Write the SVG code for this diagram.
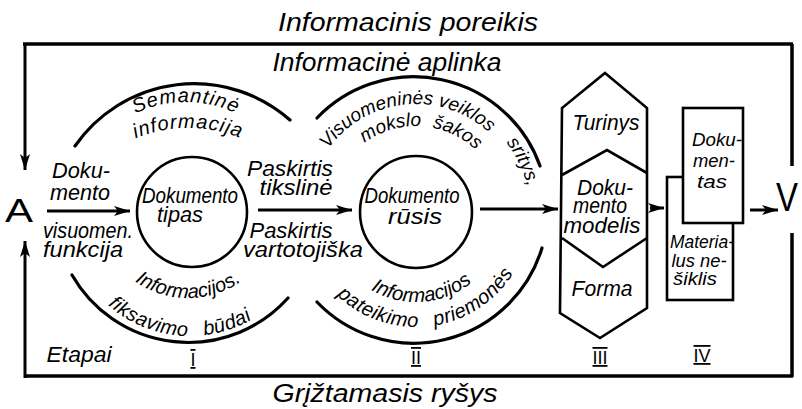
<svg xmlns="http://www.w3.org/2000/svg" width="802" height="409" viewBox="0 0 802 409">
<style>
text{font-family:"Liberation Sans",Arial,sans-serif;font-style:italic;fill:#000}
.t{font-size:22px}
.a{font-size:20px}
.s{font-size:19px}
.big{font-size:26px}
.roman{font-size:18px;font-style:normal;text-decoration:underline overline}
.line{fill:none;stroke:#000;stroke-width:3.5}
.arc{fill:none;stroke:#000;stroke-width:3.2;stroke-linecap:round}
.shape{fill:#fff;stroke:#000;stroke-width:2.6}
.conn{fill:none;stroke:#000;stroke-width:3}
.ltr{font-style:normal}
</style>
<defs>
<marker id="ah" markerUnits="userSpaceOnUse" markerWidth="18" markerHeight="12" refX="16" refY="6" orient="auto">
<path d="M0,1 L16,6 L0,11 L4,6 Z" fill="#000"/>
</marker>
<path id="p_sem" d="M72,216 A114,114 0 0 1 300,216"/>
<path id="p_inf1" d="M48,268 A140,140 0 0 1 328,268"/>
<path id="p_infb1" d="M95,205 A93,93 0 0 0 281,205"/>
<path id="p_fik" d="M66,212 A124,124 0 0 0 314,212"/>
<path id="p_vis" d="M308,212 A108,108 0 0 1 524,212"/>
<path id="p_sri" d="M302,212 A114,114 0 0 1 530,212"/>
<path id="p_mok" d="M330,212 A86,86 0 0 1 502,212"/>
<path id="p_infb2" d="M326,212 A90,90 0 0 0 506,212"/>
<path id="p_pat" d="M301,212 A115,115 0 0 0 531,212"/>
</defs>
<rect width="802" height="409" fill="#fff"/>

<g id="frame">
<path class="line" d="M23,44 L793,44 M792,44 L792,166 M792,233 L792,377 M24,376 L793,376"/>
</g>

<g id="labels-outer">
<text class="big" x="408" y="31" text-anchor="middle" textLength="260" lengthAdjust="spacingAndGlyphs">Informacinis  poreikis</text>
<text class="big" x="387" y="71" text-anchor="middle" textLength="229" lengthAdjust="spacingAndGlyphs">Informacinė  aplinka</text>
<text class="big" x="385" y="402" text-anchor="middle" textLength="225" lengthAdjust="spacingAndGlyphs">Grįžtamasis  ryšys</text>
<text class="t" x="79" y="362" text-anchor="middle" textLength="65" lengthAdjust="spacingAndGlyphs">Etapai</text>
</g>

<g id="node-A"><text class="ltr" x="19" y="222" font-size="33" text-anchor="middle" textLength="28" lengthAdjust="spacingAndGlyphs">A</text></g>
<g id="node-V"><text class="ltr" x="787" y="211" font-size="40" text-anchor="middle" textLength="22" lengthAdjust="spacingAndGlyphs">V</text></g>

<g id="stage-I">
<path class="arc" d="M75,146 A145,145 0 0 1 290,120"/>
<path class="arc" d="M72,275 A134,134 0 0 0 288,298"/>
<text class="a" letter-spacing="1"><textPath href="#p_sem" startOffset="50%" text-anchor="middle">Semantinė</textPath></text>
<text class="a" letter-spacing="1"><textPath href="#p_inf1" startOffset="50%" text-anchor="middle">informacija</textPath></text>
<text class="a"><textPath href="#p_infb1" startOffset="50%" text-anchor="middle">Informacijos.</textPath></text>
<text class="a" word-spacing="10" letter-spacing="0.5"><textPath href="#p_fik" startOffset="46.9%" text-anchor="middle">fiksavimo būdai</textPath></text>
<text class="t" x="81" y="178" text-anchor="middle" textLength="58" lengthAdjust="spacingAndGlyphs">Doku-</text>
<text class="t" x="80" y="200" text-anchor="middle" textLength="60" lengthAdjust="spacingAndGlyphs">mento</text>
<text class="t" x="88" y="238" text-anchor="middle" textLength="90" lengthAdjust="spacingAndGlyphs">visuomen.</text>
<text class="t" x="83" y="257" text-anchor="middle" textLength="80" lengthAdjust="spacingAndGlyphs">funkcija</text>
<text class="roman" x="193" y="366" text-anchor="middle">I</text>
</g>

<g id="node-tipas">
<circle class="shape" cx="192" cy="212" r="55" stroke-width="3.2"/>
<text class="t" x="190" y="203" text-anchor="middle" textLength="96" lengthAdjust="spacingAndGlyphs">Dokumento</text>
<text class="t" x="180" y="222" text-anchor="middle" textLength="46" lengthAdjust="spacingAndGlyphs">tipas</text>
</g>

<g id="labels-paskirtis">
<text class="t" x="290" y="176" text-anchor="middle" textLength="86" lengthAdjust="spacingAndGlyphs">Paskirtis</text>
<text class="t" x="296" y="195" text-anchor="middle" textLength="73" lengthAdjust="spacingAndGlyphs">tikslinė</text>
<text class="t" x="291" y="238" text-anchor="middle" textLength="83" lengthAdjust="spacingAndGlyphs">Paskirtis</text>
<text class="t" x="303" y="257" text-anchor="middle" textLength="120" lengthAdjust="spacingAndGlyphs">vartotojiška</text>
</g>

<g id="stage-II">
<path class="arc" d="M317,118 A134,134 0 0 1 540,166"/>
<path class="arc" d="M317,302 A134,134 0 0 0 542,248"/>
<text class="s"><textPath href="#p_vis" startOffset="46.7%" text-anchor="middle">Visuomeninės veiklos</textPath></text>
<text class="s"><textPath href="#p_sri" startOffset="86%" text-anchor="middle">sritys,</textPath></text>
<text class="s" word-spacing="6"><textPath href="#p_mok" startOffset="52%" text-anchor="middle">mokslo šakos</textPath></text>
<text class="a"><textPath href="#p_infb2" startOffset="52.3%" text-anchor="middle">Informacijos</textPath></text>
<text class="a" word-spacing="10" letter-spacing="0.5"><textPath href="#p_pat" startOffset="54%" text-anchor="middle">pateikimo priemonės</textPath></text>
<text class="roman" x="416" y="364" text-anchor="middle">II</text>
</g>

<g id="node-rusis">
<circle class="shape" cx="416" cy="212" r="56" stroke-width="3.2"/>
<text class="t" x="412" y="203" text-anchor="middle" textLength="95" lengthAdjust="spacingAndGlyphs">Dokumento</text>
<text class="t" x="415" y="224" text-anchor="middle" textLength="54" lengthAdjust="spacingAndGlyphs">rūsis</text>
</g>

<g id="node-modelis">
<polygon class="shape" points="605,73 647,108 647,308 600,338 560,313 562,108"/>
<polyline class="shape" fill="none" points="562,175 607,150 647,173"/>
<polyline class="shape" fill="none" points="562,238 603,267 647,238"/>
<text class="t" x="606" y="130" text-anchor="middle" textLength="67" lengthAdjust="spacingAndGlyphs">Turinys</text>
<text class="t" x="605" y="195" text-anchor="middle" textLength="56" lengthAdjust="spacingAndGlyphs">Doku-</text>
<text class="t" x="600" y="213" text-anchor="middle" textLength="54" lengthAdjust="spacingAndGlyphs">mento</text>
<text class="t" x="602" y="233" text-anchor="middle" textLength="77" lengthAdjust="spacingAndGlyphs">modelis</text>
<text class="t" x="602" y="296" text-anchor="middle" textLength="61" lengthAdjust="spacingAndGlyphs">Forma</text>
<text class="roman" x="600" y="364" text-anchor="middle">III</text>
</g>

<g id="node-nesiklis">
<rect class="shape" x="667" y="177" width="66" height="123"/>
<text class="s" x="702" y="248" text-anchor="middle" textLength="64" lengthAdjust="spacingAndGlyphs">Materia-</text>
<text class="s" x="699" y="267" text-anchor="middle" textLength="55" lengthAdjust="spacingAndGlyphs">lus ne-</text>
<text class="s" x="695" y="285" text-anchor="middle" textLength="44" lengthAdjust="spacingAndGlyphs">šiklis</text>
</g>

<g id="node-dokumentas">
<rect class="shape" x="683" y="108" width="60" height="115"/>
<text class="s" x="717" y="146" text-anchor="middle" textLength="50" lengthAdjust="spacingAndGlyphs">Doku-</text>
<text class="s" x="714" y="167" text-anchor="middle" textLength="42" lengthAdjust="spacingAndGlyphs">men-</text>
<text class="s" x="712" y="188" text-anchor="middle" textLength="30" lengthAdjust="spacingAndGlyphs">tas</text>
<text class="roman" x="702" y="362" text-anchor="middle">IV</text>
</g>

<g id="connectors">
<path class="conn" stroke-width="3.5" d="M25,43 L25,170" marker-end="url(#ah)"/>
<path class="conn" stroke-width="3.5" d="M25,378 L25,241" marker-end="url(#ah)"/>
<path class="conn" d="M47,211 L130,211" marker-end="url(#ah)"/>
<path class="conn" d="M258,210 L352,210" marker-end="url(#ah)"/>
<path class="conn" d="M480,209 L558,209" marker-end="url(#ah)"/>
<path class="conn" d="M650,208 L664,208" marker-end="url(#ah)"/>
<path class="conn" d="M750,210 L778,210" marker-end="url(#ah)"/>
</g>
</svg>
